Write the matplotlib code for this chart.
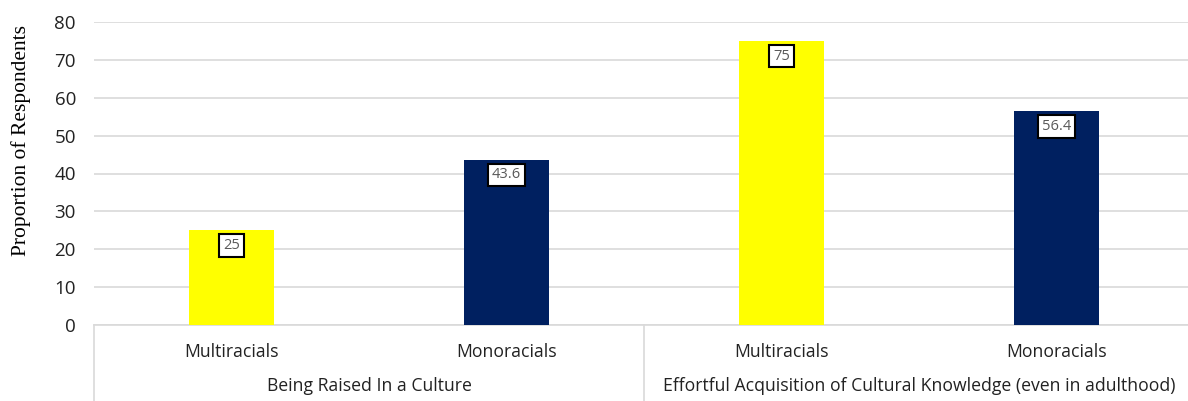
import matplotlib.pyplot as plt
from matplotlib.lines import Line2D

groups = ["Being Raised In a Culture",
          "Effortful Acquisition of Cultural Knowledge (even in adulthood)"]
bar_labels = ["Multiracials", "Monoracials", "Multiracials", "Monoracials"]
values = [25, 43.6, 75, 56.4]
value_text = ["25", "43.6", "75", "56.4"]
colors = ["#ffff00", "#002060", "#ffff00", "#002060"]

fig = plt.figure(figsize=(11.88, 4.01), dpi=100)
# axes extends a bit past the right edge like the original
ax = fig.add_axes([94 / 1188, 76 / 401, 1100 / 1188, 303 / 401])

x = list(range(len(values)))
ax.bar(x, values, width=0.31, color=colors, zorder=3)
ax.set_xlim(-0.5, len(values) - 0.5)
ax.set_ylim(0, 80)
ax.set_yticks(range(0, 81, 10))
ax.yaxis.grid(True, color="#d9d9d9", linewidth=1.2, zorder=0)
ax.set_axisbelow(True)
for s in ["top", "right", "left"]:
    ax.spines[s].set_visible(False)
ax.spines["bottom"].set_color("#d9d9d9")
ax.spines["bottom"].set_linewidth(1.2)
ax.tick_params(axis="y", length=0, pad=13, labelsize=13.5, labelcolor="#222222")
ax.tick_params(axis="x", length=0)
ax.set_xticks([])
for lbl in ax.get_yticklabels():
    lbl.set_family("Open Sans")

ax.set_ylabel("Proportion of Respondents", family="Liberation Serif", fontsize=15.5)
ax.yaxis.set_label_coords(-0.057, 0.61)

# value labels
for xi, v, t in zip(x, values, value_text):
    ax.text(xi, v - 2.0, t, ha="center", va="top", fontsize=10.5, color="#595959",
            family="Open Sans", zorder=5,
            bbox=dict(boxstyle="square,pad=0.25", fc="white", ec="black", lw=1.5))

# category labels below axis
trans = ax.get_xaxis_transform()
for xi, lab in zip(x, bar_labels):
    ax.text(xi, -0.09, lab, transform=trans, ha="center", va="center",
            fontsize=12.7, family="Open Sans", color="#222222", clip_on=False)
for gi, g in enumerate(groups):
    ax.text(gi * 2 + 0.5, -0.2, g, transform=trans, ha="center", va="center",
            fontsize=12.7, family="Open Sans", color="#222222", clip_on=False)

# separator lines of the category table
for xs in [-0.5, 1.5, 3.5]:
    ax.add_line(Line2D([xs, xs], [0, -0.3], transform=trans, color="#d9d9d9",
                       lw=1.2, clip_on=False))

fig.savefig("out.png", dpi=100)
